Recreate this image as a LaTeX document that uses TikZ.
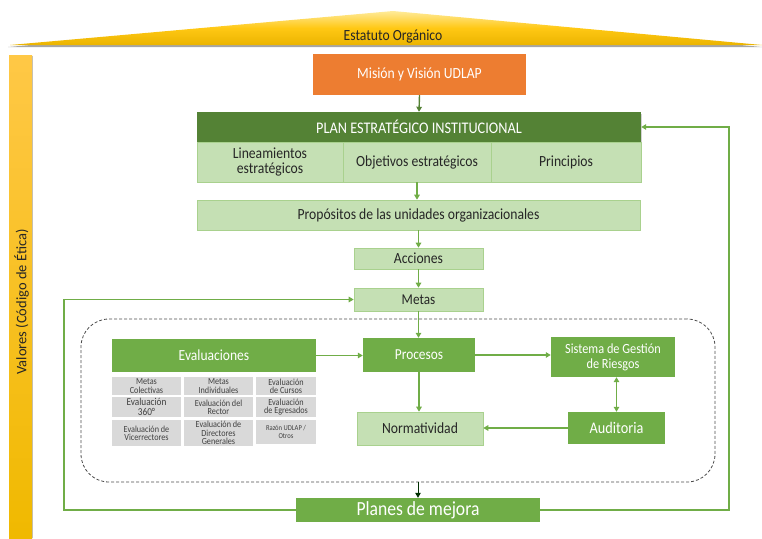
\documentclass[tikz,border=0pt]{standalone}
\usepackage{fontspec}
\setmainfont{Carlito}
\newfontfamily\cond{Carlito}[FakeStretch=0.88]
\usetikzlibrary{arrows.meta,shadows,calc}
\definecolor{dgreen}{HTML}{548235}
\definecolor{mgreen}{HTML}{70AD47}
\definecolor{lgreen}{HTML}{C5E0B4}
\definecolor{lborder}{HTML}{A9D18E}
\definecolor{orng}{HTML}{ED7D31}
\definecolor{gry}{HTML}{D9D9D9}
\definecolor{txt}{HTML}{262626}
\begin{document}
\begin{tikzpicture}[x=1pt,y=-1pt,
  box/.style={rectangle, inner sep=0pt, align=center},
  dark/.style={box, fill=dgreen, text=white},
  med/.style={box, fill=mgreen, text=white},
  light/.style={box, fill=lgreen, draw=lborder, line width=0.6pt, text=txt},
  cell/.style={box, fill=gry, text=black!75, font=\cond\fontsize{9.3}{8.4}\selectfont},
  arr/.style={draw=mgreen, line width=1.4pt, -{Triangle[length=5pt,width=5.5pt]}},
  darr/.style={draw=dgreen, line width=1.4pt, -{Triangle[length=5pt,width=5.5pt]}},
]
\useasboundingbox (0,0) rectangle (762,538);

% Estatuto Organico roof
\path[fill=black!35] (8,47) -- (393,13) -- (762,47) -- cycle;
\path[top color=yellow!60!orange!40!white, bottom color={rgb,255:red,235;green,180;blue,0}, middle color={rgb,255:red,255;green,200;blue,20}]
  (10,45) -- (393,11) -- (762,45) -- cycle;
\node[text=txt, font=\cond\fontsize{15.5}{15.5}\selectfont] (estatuto) at (393,36.5) {Estatuto Orgánico};

% Valores bar
\path[fill=black!25] (10,56) rectangle (33,538);
\path[top color={rgb,255:red,255;green,200;blue,70}, bottom color={rgb,255:red,240;green,185;blue,0}] (9,55) rectangle (32,538);
\node[rotate=90, text=txt, font=\fontsize{14.5}{14.5}\selectfont] (valores) at (21.5,302) {Valores (Código de Ética)};

% dashed zone
\node[draw=black!70, dashed, dash pattern=on 3pt off 2pt, line width=0.8pt, rounded corners=28pt,
  minimum width=634pt, minimum height=163pt, inner sep=0pt] (zone) at (398,400.5) {};

% main nodes
\node[box, fill=orng, text=white, minimum width=213pt, minimum height=41pt,
  font=\cond\fontsize{15.5}{15.5}\selectfont] (mision) at (419.5,74.5) {Misión y Visión UDLAP};
\node[dark, drop shadow={shadow xshift=1pt, shadow yshift=-2pt, opacity=0.35}, minimum width=444pt, minimum height=30pt,
  font=\cond\fontsize{16.2}{16}\selectfont] (pei) at (419,127) {PLAN ESTRATÉGICO INSTITUCIONAL};
\node[light, minimum width=146pt, minimum height=40pt, font=\cond\fontsize{15.5}{14.5}\selectfont] (lin) at (270,162) {Lineamientos\\estratégicos};
\node[light, minimum width=148pt, minimum height=40pt, font=\cond\fontsize{15.5}{14.5}\selectfont] (obj) at (417,162) {Objetivos estratégicos};
\node[light, minimum width=150pt, minimum height=40pt, font=\cond\fontsize{15.5}{14.5}\selectfont] (pri) at (566,162) {Principios};
\node[light, minimum width=443pt, minimum height=30pt, font=\cond\fontsize{15.5}{15}\selectfont] (prop) at (418.5,215) {Propósitos de las unidades organizacionales};
\node[light, minimum width=129pt, minimum height=21pt, font=\cond\fontsize{15.5}{15}\selectfont] (acc) at (418.5,258.5) {Acciones};
\node[light, minimum width=129pt, minimum height=23pt, font=\cond\fontsize{15}{15}\selectfont] (metas) at (418.5,299.5) {Metas};

\node[med, minimum width=112pt, minimum height=34pt, font=\cond\fontsize{15.2}{15}\selectfont] (proc) at (419,355) {Procesos};
\node[med, minimum width=124pt, minimum height=40pt, font=\cond\fontsize{14}{15}\selectfont] (sgr) at (613,357) {Sistema de Gestión\\de Riesgos};
\node[light, minimum width=126pt, minimum height=33pt, font=\cond\fontsize{15.5}{15}\selectfont] (norm) at (420,428.5) {Normatividad};
\node[med, minimum width=97pt, minimum height=32pt, font=\cond\fontsize{16.2}{16}\selectfont] (aud) at (616.5,428) {Auditoria};
\node[med, minimum width=204pt, minimum height=33pt, font=\cond\fontsize{15.4}{15}\selectfont] (eval) at (214,355.5) {Evaluaciones};

% grey cells
\node[cell, minimum width=69pt, minimum height=18pt] (c11) at (146.5,386) {Metas\\Colectivas};
\node[cell, minimum width=69pt, minimum height=18pt] (c12) at (218.5,386) {Metas\\Individuales};
\node[cell, minimum width=60pt, minimum height=18pt] (c13) at (286,386) {Evaluación\\de Cursos};
\node[cell, minimum width=69pt, minimum height=20pt, font=\cond\fontsize{10.5}{10}\selectfont] (c21) at (146.5,407) {Evaluación\\360°};
\node[cell, minimum width=69pt, minimum height=20pt] (c22) at (218.5,407) {Evaluación del\\Rector};
\node[cell, minimum width=60pt, minimum height=20pt] (c23) at (286,407) {Evaluación\\de Egresados};
\node[cell, minimum width=69pt, minimum height=26pt] (c31) at (146.5,433) {Evaluación de\\Vicerrectores};
\node[cell, minimum width=69pt, minimum height=26pt] (c32) at (218.5,433) {Evaluación de\\Directores\\Generales};
\node[cell, minimum width=60pt, minimum height=24pt, font=\cond\fontsize{7.5}{8.5}\selectfont] (c33) at (286,432) {Razón UDLAP /\\Otros};

\node[med, minimum width=244pt, minimum height=24pt, font=\cond\fontsize{20}{20}\selectfont] (planes) at (418,510) {Planes de mejora};

% connectors
\draw[darr] (mision.south) -- (pei.north);
\draw[arr] (obj.south) -- (obj.south |- prop.north);
\draw[arr] (prop.south) -- (acc.north);
\draw[arr] (acc.south) -- (metas.north);
\draw[arr] (metas.south) -- (metas.south |- proc.north);
\draw[arr] (proc.south) -- (proc.south |- norm.north);
\draw[arr] (eval.east) -- (eval.east -| proc.west);
\draw[arr] (proc.east) -- (proc.east -| sgr.west);
\draw[arr, {Triangle[length=5pt,width=5.5pt]}-{Triangle[length=5pt,width=5.5pt]}] (aud.north |- sgr.south) -- (aud.north);
\draw[arr] (aud.west) -- (aud.west -| norm.east);
\draw[darr, draw=black!70!green!60!black, line width=1pt] (planes.north |- zone.south) -- (planes.north);

\coordinate (rc) at (729,127);
\coordinate (lc) at (64,299.5);
\draw[arr] (planes.east) -| (rc) -- (pei.east);
\draw[arr] (planes.west) -| (lc) -- (metas.west);
\end{tikzpicture}
\end{document}
